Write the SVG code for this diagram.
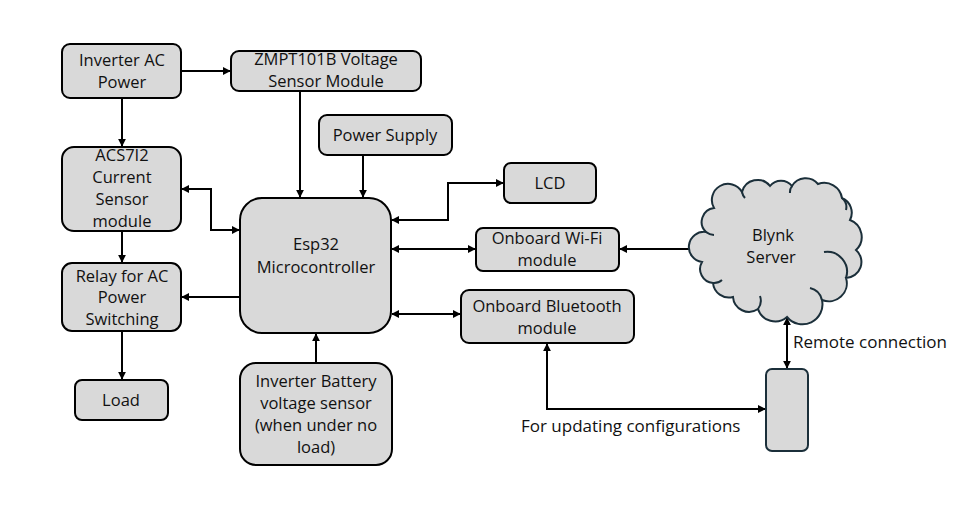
<svg xmlns="http://www.w3.org/2000/svg" width="973" height="530" viewBox="0 0 973 530">
<style>
.box{fill:#d9d9d9;stroke:#000;stroke-width:2}
.t{font-family:"Open Sans","Liberation Sans",Arial,sans-serif;font-size:16.5px;fill:#111;text-anchor:middle}
.l{font-family:"Open Sans","Liberation Sans",Arial,sans-serif;font-size:17px;fill:#111}
.c{fill:none;stroke:#000;stroke-width:2}
.cloud{fill:#d9d9d9;stroke:#1b2f3a;stroke-width:2}
</style>
<defs>
<marker id="ah" viewBox="0 0 10 10" refX="9" refY="5" markerWidth="4" markerHeight="4" orient="auto-start-reverse"><path d="M0 0L10 5L0 10z" fill="#000"/></marker>
</defs>
<rect width="973" height="530" fill="#fff"/>
<g id="connectors">
<path class="c" d="M181 71H230" marker-end="url(#ah)"/>
<path class="c" d="M122 98V146" marker-end="url(#ah)"/>
<path class="c" d="M300 91V197" marker-end="url(#ah)"/>
<path class="c" d="M363 155V197" marker-end="url(#ah)"/>
<path class="c" d="M182 189H211V230H239" marker-start="url(#ah)" marker-end="url(#ah)"/>
<path class="c" d="M122 231V262" marker-end="url(#ah)"/>
<path class="c" d="M240 297H182" marker-end="url(#ah)"/>
<path class="c" d="M122 331V379" marker-end="url(#ah)"/>
<path class="c" d="M316 363V334" marker-end="url(#ah)"/>
<path class="c" d="M392 220H448V183H503" marker-start="url(#ah)" marker-end="url(#ah)"/>
<path class="c" d="M392 249H475" marker-start="url(#ah)" marker-end="url(#ah)"/>
<path class="c" d="M620 249H697" marker-start="url(#ah)" marker-end="url(#ah)"/>
<path class="c" d="M392 314H460" marker-start="url(#ah)" marker-end="url(#ah)"/>
<path class="c" d="M547 344V409H765" marker-start="url(#ah)" marker-end="url(#ah)"/>
<path class="c" d="M787 318V368" marker-start="url(#ah)" marker-end="url(#ah)"/>
</g>
<g id="inverter-ac"><rect class="box" x="62" y="44" width="119" height="54" rx="8"/><text class="t" x="122" y="66">Inverter AC</text><text class="t" x="122" y="88">Power</text></g>
<g id="zmpt"><rect class="box" x="231" y="51" width="190" height="40" rx="8"/><text class="t" x="326" y="65">ZMPT101B Voltage</text><text class="t" x="326" y="87">Sensor Module</text></g>
<g id="power-supply"><rect class="box" x="319" y="115" width="133" height="40" rx="8"/><text class="t" x="385" y="141">Power Supply</text></g>
<g id="acs712"><rect class="box" x="62" y="147" width="119" height="84" rx="12"/><text class="t" x="122" y="161">ACS7I2</text><text class="t" x="122" y="183">Current</text><text class="t" x="122" y="205">Sensor</text><text class="t" x="122" y="227">module</text></g>
<g id="relay"><rect class="box" x="62" y="263" width="119" height="68" rx="10"/><text class="t" x="122" y="282">Relay for AC</text><text class="t" x="122" y="303">Power</text><text class="t" x="122" y="325">Switching</text></g>
<g id="load"><rect class="box" x="75" y="380" width="93" height="40" rx="7"/><text class="t" x="121" y="406">Load</text></g>
<g id="esp32"><rect class="box" x="240" y="198" width="151" height="135" rx="22"/><text class="t" x="316" y="250">Esp32</text><text class="t" x="316" y="273">Microcontroller</text></g>
<g id="battery"><rect class="box" x="240" y="363" width="152" height="102" rx="16"/><text class="t" x="316" y="387">Inverter Battery</text><text class="t" x="316" y="409">voltage sensor</text><text class="t" x="316" y="431">(when under no</text><text class="t" x="316" y="453">load)</text></g>
<g id="lcd"><rect class="box" x="504" y="163" width="92" height="40" rx="7"/><text class="t" x="550" y="189">LCD</text></g>
<g id="wifi"><rect class="box" x="476" y="228" width="143" height="43" rx="7"/><text class="t" x="547" y="244">Onboard Wi-Fi</text><text class="t" x="547" y="266">module</text></g>
<g id="bluetooth"><rect class="box" x="461" y="290" width="173" height="53" rx="8"/><text class="t" x="547" y="312">Onboard Bluetooth</text><text class="t" x="547" y="334">module</text></g>
<g id="blynk">
<path class="cloud" d="M706 232A14 14 0 0 1 714 208A16 16 0 0 1 742 192A16 16 0 0 1 770 186A14 14 0 0 1 792 186A16 16 0 0 1 818 184A18 18 0 0 1 842 198A16 16 0 0 1 850 220A18 18 0 0 1 856 250A16 16 0 0 1 846 278A18 18 0 0 1 822 300A20 20 0 0 1 787 317A18 18 0 0 1 758 309A16 16 0 0 1 733 297A16 16 0 0 1 713 283A14 14 0 0 1 702 262A14 14 0 0 1 706 232Z"/>
<path fill="none" stroke="#1b2f3a" stroke-width="2" d="M706 232A14 14 0 0 0 714 235M742 192A12 12 0 0 0 745 198M792 186A10 10 0 0 0 790 193M842 198A12 12 0 0 1 846 210M846 278A20 20 0 0 0 824 252M822 300A16 16 0 0 0 810 288M758 309A14 14 0 0 0 760 296M713 283A12 12 0 0 0 722 280"/>
<text class="t" x="773" y="241">Blynk</text><text class="t" x="771" y="263">Server</text>
</g>
<g id="phone"><rect x="766" y="369" width="42" height="82" rx="6" fill="#d9d9d9" stroke="#1b2f3a" stroke-width="2"/></g>
<g id="labels">
<text class="l" x="793" y="348">Remote connection</text>
<text class="l" x="521" y="432">For updating configurations</text>
</g>
</svg>
